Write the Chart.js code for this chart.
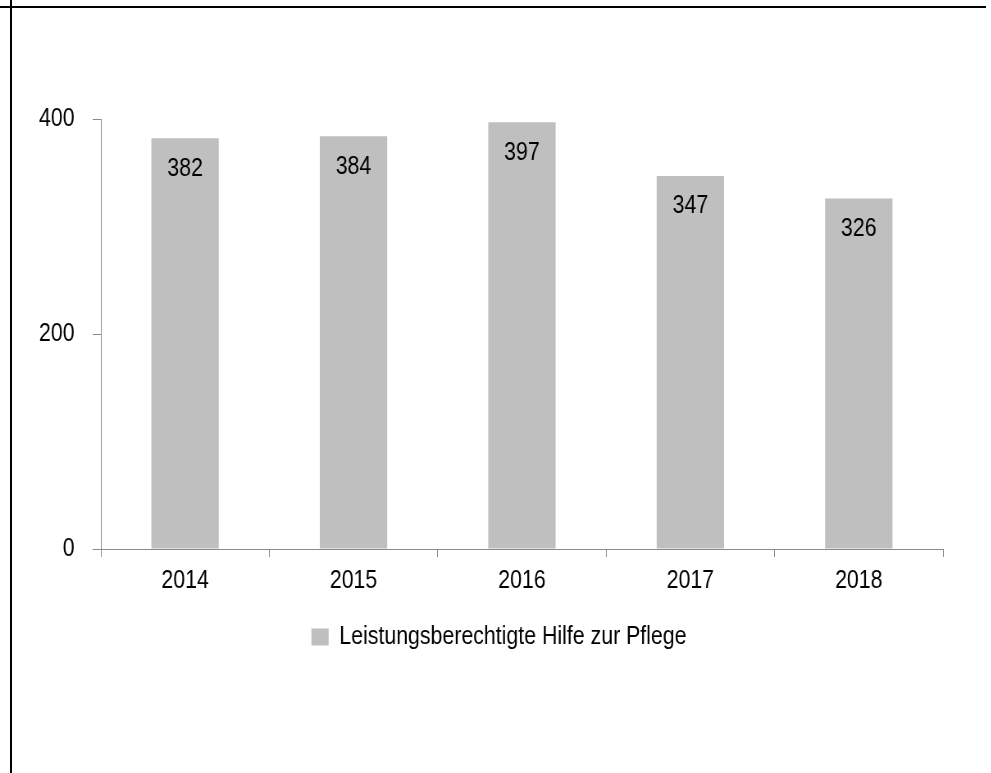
<!DOCTYPE html>
<html>
<head>
<meta charset="utf-8">
<script src="https://cdn.jsdelivr.net/npm/chart.js@4/dist/chart.umd.min.js"></script>
<style>
  html, body { margin: 0; padding: 0; background: #fff; }
  #wrap { position: relative; width: 991px; height: 773px; overflow: hidden; }
  #c { position: absolute; left: 0; top: 0; transform-origin: 0 0; transform: scaleX(0.82); }
  .bt { position: absolute; left: 0; top: 6px; width: 986px; height: 2px; background: #000; }
  .bl { position: absolute; left: 10px; top: 0; width: 2px; height: 773px; background: #000; }
</style>
</head>
<body>
<div id="wrap">
  <canvas id="c" width="1209" height="773"></canvas>
  <div class="bt"></div>
  <div class="bl"></div>
</div>
<script>
const categories = ['2014', '2015', '2016', '2017', '2018'];
const seriesName = 'Leistungsberechtigte Hilfe zur Pflege';
const seriesValues = [382, 384, 397, 347, 326];
const yTicks = [0, 200, 400];

// The reference uses a condensed (Arial Narrow-like) face; the canvas is drawn
// wider and compressed horizontally by CSS to reproduce it.
const FONT = "'Liberation Sans', Arial, sans-serif";
const AXIS_GRAY = '#8a8a8a';

const valueLabels = {
  id: 'valueLabels',
  afterDatasetsDraw(chart) {
    const ctx = chart.ctx;
    const meta = chart.getDatasetMeta(0);
    ctx.save();
    ctx.font = '26px ' + FONT;
    ctx.fillStyle = '#000';
    ctx.textAlign = 'center';
    ctx.textBaseline = 'alphabetic';
    meta.data.forEach((bar, i) => {
      ctx.fillText(String(chart.data.datasets[0].data[i]), bar.x, bar.y + 37.5);
    });
    ctx.restore();
  }
};

// centre the legend on the page rather than on the padded layout box
const legendShift = {
  id: 'legendShift',
  afterLayout(chart) {
    if (chart.legend) { chart.legend.left = 67; }
  }
};

new Chart(document.getElementById('c'), {
  type: 'bar',
  data: {
    labels: categories,
    datasets: [{
      label: seriesName,
      data: seriesValues,
      backgroundColor: '#bfbfbf',
      borderWidth: 0,
      categoryPercentage: 1.0,
      barPercentage: 0.4
    }]
  },
  options: {
    responsive: false,
    animation: false,
    devicePixelRatio: 1,
    events: [],
    layout: { padding: { top: 119, right: 59, left: 0, bottom: 113 } },
    plugins: {
      legend: {
        position: 'bottom',
        labels: {
          font: { size: 26, family: FONT },
          color: '#000',
          boxWidth: 21,
          boxHeight: 17,
          padding: 10
        }
      },
      tooltip: { enabled: false }
    },
    scales: {
      x: {
        grid: { display: true, drawOnChartArea: false, drawTicks: true, tickLength: 8, color: AXIS_GRAY, offset: true },
        border: { display: true, color: AXIS_GRAY, width: 1 },
        ticks: { font: { size: 26, family: FONT }, color: '#000', padding: 8, maxRotation: 0 },
        afterFit(scale) { scale.height = 65; }
      },
      y: {
        min: 0,
        max: 400,
        afterBuildTicks(scale) { scale.ticks = yTicks.map(v => ({ value: v })); },
        grid: { display: true, drawOnChartArea: false, drawTicks: true, tickLength: 10, color: AXIS_GRAY },
        border: { display: true, color: AXIS_GRAY, width: 1 },
        ticks: { font: { size: 26, family: FONT }, color: '#000', padding: 22 },
        afterFit(scale) { scale.width = 123; }
      }
    }
  },
  plugins: [valueLabels, legendShift]
});
</script>
</body>
</html>
